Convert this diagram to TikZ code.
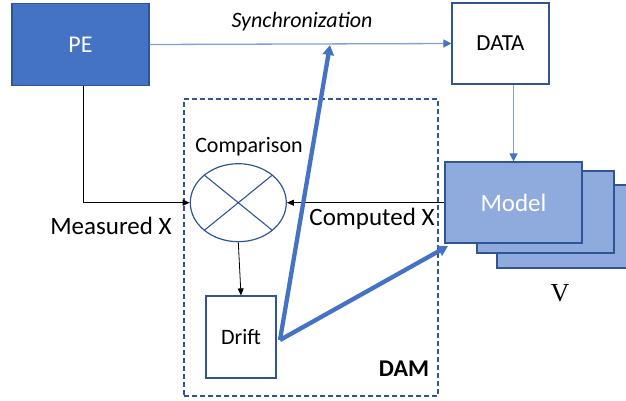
\documentclass[tikz,border=0pt]{standalone}
\usepackage{fontspec}
\setmainfont{Carlito}
\newfontfamily\timesf{Liberation Serif}
\usetikzlibrary{arrows.meta,shapes.geometric,calc}
\definecolor{peblue}{HTML}{4472C4}
\definecolor{dkblue}{HTML}{2F5597}
\definecolor{ltblue}{HTML}{8FAADC}
\definecolor{lnblue}{HTML}{7FA0DA}
\newcommand\fsz[1]{\fontsize{#1}{#1}\selectfont}
\tikzset{
  box/.style={draw=dkblue, line width=1.2pt, inner sep=0pt},
  pebox/.style={box, fill=peblue, text=white, font=\fsz{24}},
  whitebox/.style={box, fill=white, font=\fsz{23}},
  modelbox/.style={box, fill=ltblue, text=white, font=\fsz{25}},
  dambox/.style={draw=dkblue, line width=1.2pt, dash pattern=on 5pt off 3pt},
  syncline/.style={draw=lnblue, line width=1.3pt, -{Triangle[length=8pt,width=8pt,color=peblue]}},
  blk/.style={draw=black, line width=0.8pt, -{Triangle[length=7pt,width=6pt]}},
  thickarr/.style={draw=peblue, line width=4.3pt, -{Triangle[length=10pt,width=11pt]}},
  lbl/.style={font=\fsz{25}, inner sep=0pt},
}
\begin{document}
\begin{tikzpicture}[x=1pt,y=-1pt]
\useasboundingbox (0,0) rectangle (626,400);
\clip (0,0) rectangle (626,400);
% DAM region
\node[dambox, minimum width=254pt, minimum height=297pt, inner sep=0pt] (DAM) at (311,247.5) {};
\node[font=\bfseries\fsz{24}, inner sep=0pt] (damlbl) at (404,369) {DAM};
% main boxes
\node[pebox, minimum width=137pt, minimum height=82pt] (PE) at (80.5,44.5) {PE};
\node[whitebox, minimum width=97pt, minimum height=81pt] (DATA) at (500.5,43.5) {DATA};
\node[modelbox, minimum width=143pt, minimum height=83pt] (M3) at (568.5,226.5) {};
\node[modelbox, minimum width=137pt, minimum height=82pt] (M2) at (545.5,212) {};
\node[modelbox, minimum width=137pt, minimum height=81pt] (Model) at (513.5,202.5) {Model};
\node[font=\timesf\fsz{26}, inner sep=0pt] (V) at (560,293) {V};
% comparison
\node[draw=dkblue, line width=1.2pt, ellipse, minimum width=96pt, minimum height=78pt, inner sep=0pt] (cmp) at (238.3,202.7) {};
\draw[dkblue, line width=1.1pt] ($(cmp.center)+(-34,-27.6)$) -- ($(cmp.center)+(34,27.6)$);
\draw[dkblue, line width=1.1pt] ($(cmp.center)+(34,-27.6)$) -- ($(cmp.center)+(-34,27.6)$);
\node[font=\fsz{22}, inner sep=0pt] (cmplbl) at (249,147) {Comparison};
\node[whitebox, minimum width=70pt, minimum height=82pt, font=\fsz{22}] (Drift) at (241,337) {Drift};
% labels
\node[lbl] (synclbl) at (302,22) {\itshape\fsz{22}Synchronization};
\node[lbl] (meas) at (111,226) {Measured X};
\node[lbl] (comp) at (372,219) {Computed X};
% connectors
\draw[syncline] (PE.east) -- (DATA.west);
\draw[syncline] (Model.north |- DATA.south) -- (Model.north);
\draw[blk] ([xshift=3pt]PE.south) |- (cmp.west);
\draw[blk] (Model.west |- cmp.east) -- (cmp.east);
\draw[blk] (cmp.south) -- (Drift.north);
\coordinate (dj) at (280,340);
\coordinate (sj) at (330,45);
\coordinate (mj) at (448,246);
\draw[thickarr] (dj) -- (sj);
\draw[thickarr] (dj) -- (mj);
\end{tikzpicture}
\end{document}
